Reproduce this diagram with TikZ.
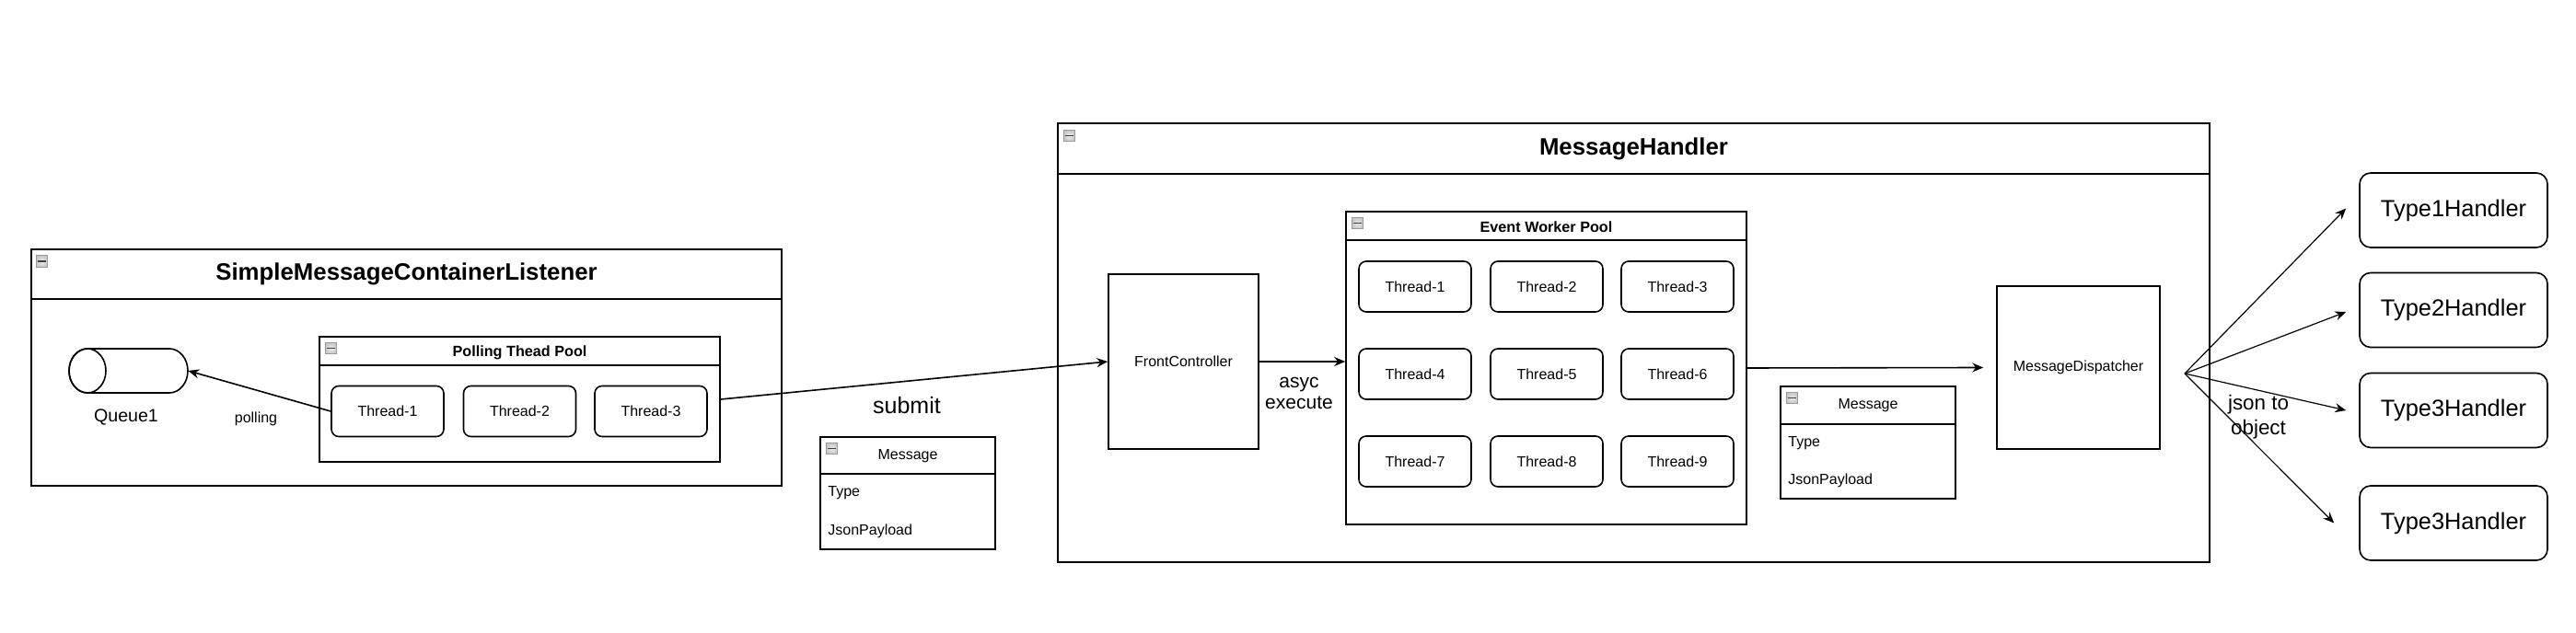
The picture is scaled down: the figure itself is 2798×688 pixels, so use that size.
\documentclass[tikz,border=0pt]{standalone}
\usepackage{fontspec}
\setmainfont{Liberation Sans}
\usetikzlibrary{arrows.meta,calc}
\tikzset{
 box/.style={draw=black, line width=0.8pt, fill=white, inner sep=0pt},
 thr/.style={box, rounded corners=4pt, minimum width=61pt, minimum height=27.5pt, font=\fontsize{8}{9.6}\selectfont},
 hdl/.style={box, rounded corners=6pt, minimum width=102pt, minimum height=40.5pt, font=\fontsize{12.7}{15}\selectfont},
 plain/.style={box, font=\fontsize{8}{9.6}\selectfont},
 bigtitle/.style={inner sep=0pt, font=\bfseries\fontsize{12.9}{15}\selectfont},
 smalltitle/.style={inner sep=0pt, font=\bfseries\fontsize{8.1}{9.6}\selectfont},
 txt/.style={inner sep=0pt, font=\fontsize{8}{9.6}\selectfont},
 field/.style={inner sep=0pt, anchor=west, font=\fontsize{8}{9.6}\selectfont},
 sepline/.style={line width=0.8pt},
 arr/.style={line width=0.8pt, -{Stealth[length=6pt,width=5pt,inset=2pt]}},
 thinarr/.style={line width=0.6pt, -{Stealth[length=6pt,width=5pt,inset=2pt]}},
 icon/.style={draw=gray!80, inner color=gray!15, outer color=gray!45, line width=0.5pt, minimum size=6.2pt, inner sep=0pt},
}
\newcommand\lanemark[2]{\node[icon] (#1) at (#2) {};
  \draw[line width=0.9pt, draw=black!75] ([xshift=1pt]#1.west) -- ([xshift=-1pt]#1.east);}
\begin{document}
\begin{tikzpicture}[x=0.5pt,y=-0.5pt]
\useasboundingbox (0,0) rectangle (2798,688);

% ---- SimpleMessageContainerListener ----
\node[box, minimum width=407.5pt, minimum height=128.5pt] (smcl) at (441.5,399.5) {};
\draw[sepline] (34,325) -- (849,325);
\lanemark{ic1}{45.5,284}
\node[bigtitle] (smclt) at (441.5,298) {SimpleMessageContainerListener};

% queue cylinder
\node[inner sep=0pt, minimum width=64.5pt, minimum height=24pt] (queue) at (139.5,403) {};
\draw[line width=0.8pt, fill=white] (95,379) -- (184,379)
  arc[start angle=90, end angle=-90, x radius=10pt, y radius=12pt] -- (95,427)
  arc[start angle=270, end angle=90, x radius=10pt, y radius=12pt] -- cycle;
\draw[line width=0.8pt] (95,403) ellipse[x radius=10pt, y radius=12pt];
\node[inner sep=0pt, font=\fontsize{9.8}{12}\selectfont] (queuel) at (137,454) {Queue1};
\node[txt] (pollingl) at (278,455) {polling};

% Polling Thead Pool
\node[box, minimum width=217.5pt, minimum height=68pt] (ptp) at (564.5,434) {};
\draw[sepline] (347,397) -- (782,397);
\lanemark{ic2}{359.5,378.5}
\node[smalltitle] (ptpt) at (564.5,383) {Polling Thead Pool};
\node[thr] (pt1) at (421,447) {Thread-1};
\node[thr] (pt2) at (564.5,447) {Thread-2};
\node[thr] (pt3) at (707,447) {Thread-3};

% ---- Message (submit) ----
\node[txt, font=\fontsize{12.5}{15}\selectfont] (submitl) at (985,441) {submit};
\node[box, minimum width=95pt, minimum height=61pt] (msg1) at (986,536) {};
\draw[sepline] (891,515) -- (1081,515);
\lanemark{ic3}{903.5,487.5}
\node[txt] (msg1t) at (986,496) {Message};
\node[field] (msg1a) at (899,536) {Type};
\node[field] (msg1b) at (899,577) {JsonPayload};

% ---- MessageHandler ----
\node[box, minimum width=625.5pt, minimum height=238.5pt] (mh) at (1774.5,372.5) {};
\draw[sepline] (1149,189) -- (2400,189);
\lanemark{ic4}{1161.5,147.5}
\node[bigtitle] (mht) at (1774.5,162) {MessageHandler};

\node[plain, minimum width=81.5pt, minimum height=95pt] (fc) at (1285.5,393) {FrontController};
\node[inner sep=0pt, align=center, font=\fontsize{10.5}{11.5}\selectfont] (asycl) at (1411,427) {asyc\\execute};

% Event Worker Pool
\node[box, minimum width=217.5pt, minimum height=170pt] (ewp) at (1679.5,400) {};
\draw[sepline] (1462,261) -- (1897,261);
\lanemark{ic5}{1474.5,242.5}
\node[smalltitle] (ewpt) at (1679.5,247) {Event Worker Pool};
\node[thr] (w1) at (1537,311.5) {Thread-1};
\node[thr] (w2) at (1680,311.5) {Thread-2};
\node[thr] (w3) at (1822,311.5) {Thread-3};
\node[thr] (w4) at (1537,406.5) {Thread-4};
\node[thr] (w5) at (1680,406.5) {Thread-5};
\node[thr] (w6) at (1822,406.5) {Thread-6};
\node[thr] (w7) at (1537,501.5) {Thread-7};
\node[thr] (w8) at (1680,501.5) {Thread-8};
\node[thr] (w9) at (1822,501.5) {Thread-9};

% Message (dispatch)
\node[box, minimum width=95pt, minimum height=61pt] (msg2) at (2029,481) {};
\draw[sepline] (1934,461) -- (2124,461);
\lanemark{ic6}{1946.5,432.5}
\node[txt] (msg2t) at (2029,441) {Message};
\node[field] (msg2a) at (1942,482) {Type};
\node[field] (msg2b) at (1942,522) {JsonPayload};

\node[plain, minimum width=88.5pt, minimum height=88.5pt] (md) at (2257.5,399.5) {MessageDispatcher};

% ---- Handlers ----
\node[hdl] (h1) at (2665,228.5) {Type1Handler};
\node[hdl] (h2) at (2665,337) {Type2Handler};
\node[hdl] (h3) at (2665,446) {Type3Handler};
\node[hdl] (h4) at (2665,568.5) {Type3Handler};

% ---- connectors ----
\draw[arr] (pt1.west) -- (queue.east);
\draw[arr] (ptp.east) -- (fc.west);
\draw[arr] (fc.east) -- (fc.east -| ewp.west);
\draw[arr] (ewp.east) -- ([xshift=-7pt]md.west);
\coordinate (fan) at (2373,406);
\draw[thinarr] (fan) -- ([xshift=-7pt,yshift=1pt]h1.west);
\draw[thinarr] (fan) -- ([xshift=-7pt,yshift=-1pt]h2.west);
\draw[thinarr] (fan) -- ([xshift=-7pt]h3.west);
\draw[thinarr] (fan) -- ([xshift=-13.5pt]h4.west);
\node[inner sep=0pt, align=center, font=\fontsize{11.2}{13.5}\selectfont] (jsonl) at (2453,453) {json to\\object};
\end{tikzpicture}
\end{document}
